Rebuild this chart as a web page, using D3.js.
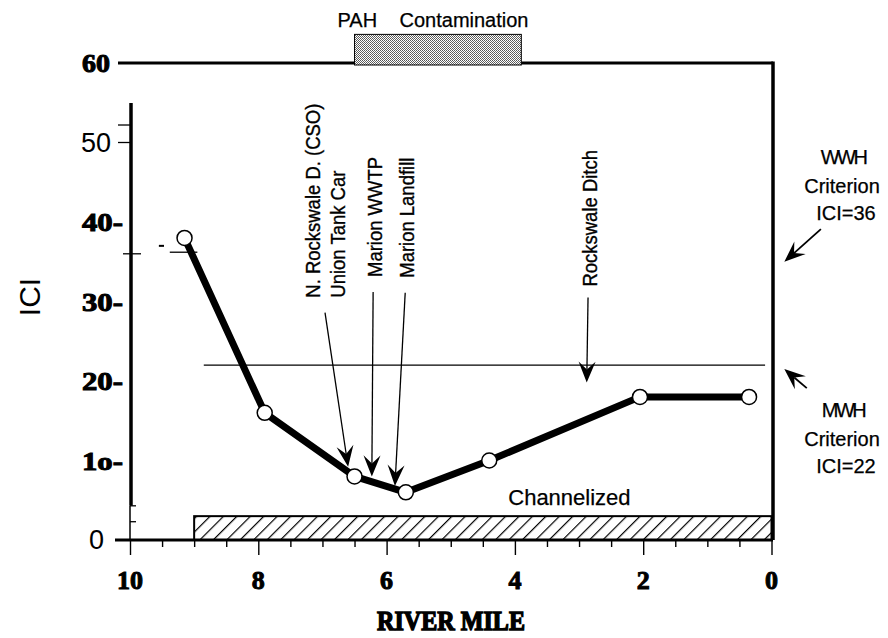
<!DOCTYPE html>
<html>
<head>
<meta charset="utf-8">
<script src="https://cdn.jsdelivr.net/npm/d3@7"></script>
<style>
  html, body { margin: 0; padding: 0; background: #fff; }
  svg { display: block; }
  .sans { font-family: "Liberation Sans", Arial, Helvetica, sans-serif; }
  .heavy { font-family: "Liberation Serif", "Times New Roman", serif; font-weight: bold; }
</style>
</head>
<body>
<svg id="chart" width="888" height="638"></svg>
<script>
// ICI sampling stations along the river
const riverMile = [9.15, 7.9, 6.5, 5.7, 4.4, 2.05, 0.35];
const iciValues = [38, 16, 8, 6, 10, 18, 18];

// Axis ticks
const xTickValues = [10, 8, 6, 4, 2, 0];
const xTickLabels = ["10", "8", "6", "4", "2", "0"];
const yTickValues = [0, 10, 20, 30, 40, 50, 60];
const yTickLabels = ["0", "1o-", "20-", "30-", "40-", "50", "60"];
const yTickBold = [false, true, true, true, true, false, true];

// Reaches
const channelizedReach = [9.0, 0];
const channelizedTop = 3;
const pahReach = [6.5, 3.9];

// Aquatic life use criteria
const criteriaNames = ["WWH", "MWH"];
const criteriaIci = [36, 22];

// Sources of impact: label lines, arrow tail [mile, ICI], arrow tip [mile, ICI]
const sourceLabels = [
  ["N. Rockswale D. (CSO)", "Union Tank Car"],
  ["Marion WWTP"],
  ["Marion Landfill"],
  ["Rockswale Ditch"]
];
const sourceTails = [[6.96, 28.6], [6.21, 31.2], [5.71, 31.1], [2.86, 30.5]];
const sourceTips = [[6.6, 9.2], [6.23, 8.0], [5.87, 6.8], [2.88, 19.8]];

const svg = d3.select("#chart");
const x = d3.scaleLinear().domain([10, 0]).range([130, 771.5]);
const y = d3.scaleLinear().domain([0, 60]).range([540, 63]);

// patterns
const defs = svg.append("defs");
const stip = defs.append("pattern").attr("id", "stipple")
  .attr("patternUnits", "userSpaceOnUse").attr("width", 2).attr("height", 2);
stip.append("rect").attr("width", 2).attr("height", 2).attr("fill", "#fff");
stip.append("rect").attr("width", 1).attr("height", 1).attr("fill", "#555");
stip.append("rect").attr("x", 1).attr("y", 1).attr("width", 1).attr("height", 1).attr("fill", "#666");

const hatch = defs.append("pattern").attr("id", "hatch")
  .attr("patternUnits", "userSpaceOnUse").attr("width", 9.5).attr("height", 9.5)
  .attr("patternTransform", "rotate(45)");
hatch.append("rect").attr("width", 9.5).attr("height", 9.5).attr("fill", "#fff");
hatch.append("line").attr("x1", 0).attr("y1", 0).attr("x2", 0).attr("y2", 9.5)
  .attr("stroke", "#000").attr("stroke-width", 2.4);

// barbed arrow: shaft plus a notched head pointing at the tip
function arrow(x1, y1, x2, y2, width) {
  const dx = x2 - x1, dy = y2 - y1, len = Math.hypot(dx, dy);
  const ux = dx / len, uy = dy / len, px = -uy, py = ux;
  const L = 21, W = 8.5, N = 13;
  svg.append("line").attr("x1", x1).attr("y1", y1)
    .attr("x2", x2 - ux * N).attr("y2", y2 - uy * N)
    .attr("stroke", "#000").attr("stroke-width", width);
  const pts = [
    [x2, y2],
    [x2 - ux * L + px * W, y2 - uy * L + py * W],
    [x2 - ux * N, y2 - uy * N],
    [x2 - ux * L - px * W, y2 - uy * L - py * W]
  ];
  svg.append("path").attr("d", "M" + pts.map(p => p.join(",")).join("L") + "Z")
    .attr("fill", "#000");
}

// Channelized reach
svg.append("rect")
  .attr("x", x(channelizedReach[0])).attr("y", y(channelizedTop))
  .attr("width", x(channelizedReach[1]) - x(channelizedReach[0]))
  .attr("height", y(0) - y(channelizedTop))
  .attr("fill", "url(#hatch)").attr("stroke", "#000").attr("stroke-width", 2);
svg.append("text").attr("class", "sans")
  .attr("x", x(3.15)).attr("y", y(channelizedTop) - 11)
  .attr("text-anchor", "middle").attr("font-size", 22)
  .attr("stroke", "#000").attr("stroke-width", 0.25)
  .text("Channelized");

// Frame: top line, right side, bottom axis, left axis
svg.append("line").attr("x1", 118).attr("x2", x(0) + 1.5)
  .attr("y1", y(60)).attr("y2", y(60)).attr("stroke", "#000").attr("stroke-width", 3);
svg.append("line").attr("x1", x(0) + 1.5).attr("x2", x(0) + 1.5)
  .attr("y1", y(60) - 1.5).attr("y2", y(0)).attr("stroke", "#000").attr("stroke-width", 3.5);
svg.append("line").attr("x1", 115).attr("x2", x(0) + 1.5)
  .attr("y1", y(0)).attr("y2", y(0)).attr("stroke", "#000").attr("stroke-width", 3);
svg.append("line").attr("x1", x(10) + 1).attr("x2", x(10) + 1)
  .attr("y1", 103).attr("y2", y(4.3)).attr("stroke", "#000").attr("stroke-width", 3.5);
svg.append("line").attr("x1", x(10)).attr("x2", x(10))
  .attr("y1", y(4.3)).attr("y2", y(0)).attr("stroke", "#000").attr("stroke-width", 1.5);

// small left-axis marks
[[50, 118, 131], [52.2, 118, 131], [36, 123, 141], [4.3, 130, 136], [2.3, 130, 136]].forEach(d => {
  svg.append("line").attr("x1", d[1]).attr("x2", d[2]).attr("y1", y(d[0])).attr("y2", y(d[0]))
    .attr("stroke", "#000").attr("stroke-width", 1.3);
});

// x ticks every half mile, longer at labelled miles
const xAxis = d3.axisBottom(x).tickValues(d3.range(0, 10.01, 0.5))
  .tickSize(0).tickFormat("");
const gx = svg.append("g").attr("transform", `translate(0,${y(0)})`).call(xAxis);
gx.select(".domain").remove();
gx.selectAll(".tick line").remove();
gx.selectAll(".tick").append("line")
  .attr("y1", 0).attr("y2", d => (d % 2 === 0 ? 15 : 7))
  .attr("stroke", "#000").attr("stroke-width", 1.4);

svg.selectAll(".xlab").data(xTickValues).join("text")
  .attr("class", "heavy xlab")
  .attr("x", d => x(d)).attr("y", 589)
  .attr("text-anchor", "middle").attr("font-size", 26)
  .attr("stroke", "#000").attr("stroke-width", 1)
  .text((d, i) => xTickLabels[i]);

// y tick labels
svg.selectAll(".ylab").data(yTickValues).join("text")
  .attr("class", (d, i) => (yTickBold[i] ? "heavy ylab" : "sans ylab"))
  .attr("x", (d, i) => (d === 60 ? 110 : d === 0 ? 104 : yTickBold[i] ? 123 : 111))
  .attr("y", d => y(d))
  .attr("dy", "0.35em")
  .attr("text-anchor", "end")
  .attr("font-size", (d, i) => (yTickBold[i] ? 26 : 27))
  .attr("stroke", (d, i) => (yTickBold[i] ? "#000" : "none"))
  .attr("stroke-width", 1)
  .each(function (d, i) {
    if (yTickBold[i]) {
      d3.select(this).attr("textLength", d === 60 ? 28 : 41).attr("lengthAdjust", "spacingAndGlyphs");
    }
  })
  .text((d, i) => yTickLabels[i]);

// WWH criterion stub on the left
svg.append("line").attr("x1", x(9.38)).attr("x2", x(8.95))
  .attr("y1", y(36.2)).attr("y2", y(36.2)).attr("stroke", "#000").attr("stroke-width", 1.3);
svg.append("line").attr("x1", x(9.55)).attr("x2", x(9.47))
  .attr("y1", y(37)).attr("y2", y(37)).attr("stroke", "#000").attr("stroke-width", 2);

// MWH criterion line
svg.append("line").attr("x1", x(8.85)).attr("x2", x(0.1))
  .attr("y1", y(criteriaIci[1])).attr("y2", y(criteriaIci[1]))
  .attr("stroke", "#000").attr("stroke-width", 1.2);

// PAH contamination reach
svg.append("rect")
  .attr("x", x(pahReach[0])).attr("y", y(63.6))
  .attr("width", x(pahReach[1]) - x(pahReach[0]))
  .attr("height", y(60) - y(63.6) + 2)
  .attr("fill", "url(#stipple)").attr("stroke", "#000").attr("stroke-width", 1);
const pahTitle = svg.append("g").attr("class", "sans").attr("font-size", 20)
  .attr("stroke", "#000").attr("stroke-width", 0.25);
pahTitle.append("text").attr("x", x(pahReach[0]) - 17).attr("y", 27).text("PAH");
pahTitle.append("text").attr("x", x(pahReach[0]) + 45).attr("y", 27).text("Contamination");

// ICI line and stations
const line = d3.line().x(d => x(d[0])).y(d => y(d[1]));
const pts = riverMile.map((m, i) => [m, iciValues[i]]);
svg.append("path").datum(pts).attr("d", line)
  .attr("fill", "none").attr("stroke", "#000").attr("stroke-width", 7)
  .attr("stroke-linejoin", "round");

// Source arrows and labels
sourceLabels.forEach((lines, i) => {
  const t = sourceTails[i], p = sourceTips[i];
  arrow(x(t[0]), y(t[1]), x(p[0]), y(p[1]), 1.3);
  lines.forEach((txt, j) => {
    const lx = x(t[0]) + (lines.length > 1 ? -13 + j * 25 : 1);
    const ly = y(t[1]) - (i === 3 ? 11 : 15);
    svg.append("text").attr("class", "sans")
      .attr("transform", `translate(${lx},${ly}) rotate(-90) scale(0.88,1)`)
      .attr("dy", "0.36em")
      .attr("font-size", 21)
      .attr("stroke", "#000").attr("stroke-width", 0.35)
      .text(txt);
  });
});

svg.selectAll(".station").data(pts).join("circle")
  .attr("class", "station")
  .attr("cx", d => x(d[0])).attr("cy", d => y(d[1]))
  .attr("r", 7.5).attr("fill", "#fff").attr("stroke", "#000").attr("stroke-width", 1.5);

// Criterion notes on the right
const critBlocks = [
  { yTop: 164, arrowTail: [-0.77, 39.1], arrowTip: [-0.2, 35.0] },
  { yTop: 417, arrowTail: [-0.55, 19.1], arrowTip: [-0.2, 21.5] }
];
criteriaNames.forEach((name, i) => {
  const b = critBlocks[i];
  const g = svg.append("g").attr("class", "sans").attr("text-anchor", "middle")
    .attr("stroke", "#000").attr("stroke-width", 0.25);
  g.append("text").attr("x", 843).attr("y", b.yTop).attr("font-size", 20)
    .attr("letter-spacing", -2.5).text(name);
  g.append("text").attr("x", 842).attr("y", b.yTop + 29).attr("font-size", 20).text("Criterion");
  g.append("text").attr("x", 846).attr("y", b.yTop + 56).attr("font-size", 20)
    .text("ICI=" + criteriaIci[i]);
  arrow(x(b.arrowTail[0]), y(b.arrowTail[1]), x(b.arrowTip[0]), y(b.arrowTip[1]), 1.8);
});

// Axis titles
svg.append("text").attr("class", "sans")
  .attr("transform", "translate(29,297) rotate(-90)")
  .attr("text-anchor", "middle").attr("dy", "0.35em")
  .attr("font-size", 30).text("ICI");
svg.append("text").attr("class", "heavy")
  .attr("x", 377).attr("y", 630)
  .attr("font-size", 27).attr("stroke", "#000").attr("stroke-width", 1.4)
  .attr("textLength", 148).attr("lengthAdjust", "spacingAndGlyphs")
  .text("RIVER MILE");
</script>
</body>
</html>
